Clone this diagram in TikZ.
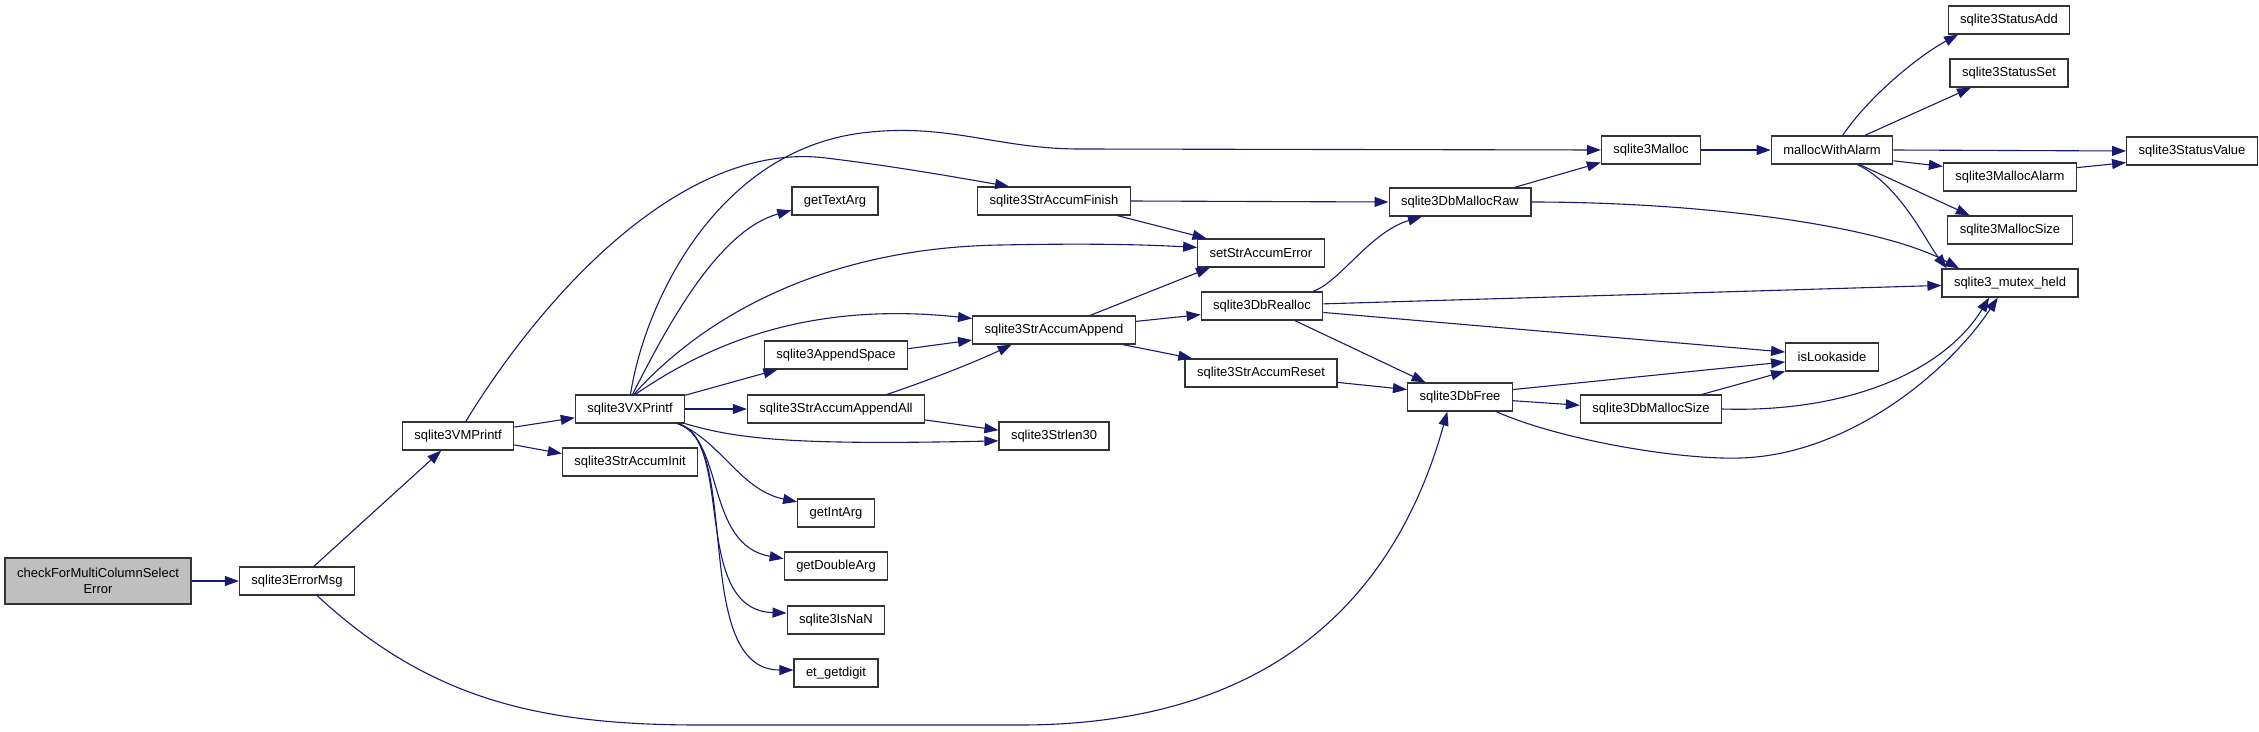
\documentclass[tikz,border=0pt]{standalone}
\usepackage{fontspec}
\setmainfont{Liberation Sans}
\usepackage{tikz}
\usetikzlibrary{arrows.meta}
\definecolor{cEdge}{HTML}{191970}
\definecolor{cRoot}{HTML}{BFBFBF}
\tikzset{
  fn/.style={
    rectangle, draw=black!80, fill=white, line width=1.2pt,
    minimum height=28pt, inner xsep=12pt, inner ysep=0pt,
    font=\fontsize{13}{16}\selectfont
  },
  rootfn/.style={fn, fill=cRoot, minimum height=46pt, align=center},
  call/.style={-{Triangle[length=14pt,width=10pt]}, line width=1.1pt, cEdge},
}

\begin{document}
\begin{tikzpicture}[x=1pt,y=-1pt]
  \useasboundingbox (0,0) rectangle (2259,731);

  % callers
  \node[rootfn] (root) at (98,581) {checkForMultiColumnSelect\\Error};
  \node[fn] (errmsg)   at (297,581) {sqlite3ErrorMsg};
  \node[fn] (vmprintf) at (458,436) {sqlite3VMPrintf};
  \node[fn] (vxprintf) at (630,409) {sqlite3VXPrintf};
  \node[fn] (accinit)  at (630,462) {sqlite3StrAccumInit};

  % column of helpers
  \node[fn] (textarg)  at (835,201) {getTextArg};
  \node[fn] (appspace) at (836,355) {sqlite3AppendSpace};
  \node[fn] (appall)   at (836,409) {sqlite3StrAccumAppendAll};
  \node[fn] (intarg)   at (836,513) {getIntArg};
  \node[fn] (dblarg)   at (836,566) {getDoubleArg};
  \node[fn] (isnan)    at (836,620) {sqlite3IsNaN};
  \node[fn] (getdigit) at (836,673) {et\_getdigit};

  \node[fn] (accfinish) at (1054,201) {sqlite3StrAccumFinish};
  \node[fn] (accappend) at (1054,330) {sqlite3StrAccumAppend};
  \node[fn] (strlen)    at (1054,436) {sqlite3Strlen30};

  \node[fn] (accerror)  at (1261,253) {setStrAccumError};
  \node[fn] (dbrealloc) at (1262,306) {sqlite3DbRealloc};
  \node[fn] (accreset)  at (1261,373) {sqlite3StrAccumReset};

  \node[fn] (mallocraw) at (1460,202) {sqlite3DbMallocRaw};
  \node[fn] (dbfree)    at (1460,397) {sqlite3DbFree};

  \node[fn] (malloc)    at (1651,150) {sqlite3Malloc};
  \node[fn] (dbmsize)   at (1651,409) {sqlite3DbMallocSize};

  \node[fn] (withalarm) at (1832,150) {mallocWithAlarm};
  \node[fn] (lookaside) at (1832,357) {isLookaside};

  % memory stats
  \node[fn] (statadd)   at (2009,20)  {sqlite3StatusAdd};
  \node[fn] (statset)   at (2009,73)  {sqlite3StatusSet};
  \node[fn] (malarm)    at (2010,177) {sqlite3MallocAlarm};
  \node[fn] (msize)     at (2010,230) {sqlite3MallocSize};
  \node[fn] (mutex)     at (2010,283) {sqlite3\_mutex\_held};
  \node[fn] (statvalue) at (2192,151) {sqlite3StatusValue};

  % edges
  \draw[call] (root.east) -- (errmsg.west);
  \draw[call] (errmsg.41) -- (vmprintf.221);
  \draw[call] (errmsg.-36) .. controls (430,700) and (540,725) .. (700,725)
     -- (1020,725) .. controls (1270,725) and (1395,600) .. (dbfree.229);

  \draw[call] (vmprintf.9) -- (vxprintf.189);
  \draw[call] (vmprintf.-9) -- (accinit.173);
  \draw[call] (vmprintf.62) .. controls (540,300) and (680,140) .. (826,158)
     .. controls (900,167) and (960,178) .. (accfinish.162);

  \draw[call] (vxprintf.88) .. controls (645,300) and (720,145) .. (871,132)
     .. controls (950,124) and (1000,149) .. (1080,149) -- (malloc.west);
  \draw[call] (vxprintf.80) .. controls (670,320) and (720,230) .. (textarg.192);
  \draw[call] (vxprintf.75) .. controls (700,320) and (820,248) .. (1000,245)
     .. controls (1100,243) and (1150,245) .. (accerror.175);
  \draw[call] (vxprintf.70) .. controls (700,350) and (800,300) .. (accappend.172);
  \draw[call] (vxprintf.14) -- (appspace.194);
  \draw[call] (vxprintf.east) -- (appall.west);
  \draw[call] (vxprintf.south east) .. controls (740,440) and (800,445) .. (strlen.185);
  \draw[call] (vxprintf.-17) .. controls (720,440) and (740,490) .. (intarg.164);
  \draw[call] (vxprintf.-17) .. controls (725,440) and (705,545) .. (dblarg.172);
  \draw[call] (vxprintf.-17) .. controls (735,440) and (690,610) .. (isnan.172);
  \draw[call] (vxprintf.-17) .. controls (742,440) and (690,670) .. (getdigit.176);

  \draw[call] (appspace.5) -- (accappend.187);
  \draw[call] (appall.16) .. controls (930,380) and (980,360) .. (accappend.199);
  \draw[call] (appall.-7) -- (strlen.174);

  \draw[call] (accfinish.east) -- (mallocraw.west);
  \draw[call] (accfinish.-13) -- (accerror.165);
  \draw[call] (accappend.22) -- (accerror.196);
  \draw[call] (accappend.6) -- (dbrealloc.188);
  \draw[call] (accappend.-12) -- (accreset.168);

  \draw[call] (dbrealloc.16) .. controls (1340,282) and (1370,232) .. (mallocraw.201);
  \draw[call] (dbrealloc.2) -- (mutex.182);
  \draw[call] (dbrealloc.-6) -- (lookaside.174);
  \draw[call] (dbrealloc.-24) -- (dbfree.157);
  \draw[call] (accreset.-7) -- (dbfree.172);

  \draw[call] (mallocraw.15) -- (malloc.194);
  \draw[call] (mallocraw.east) .. controls (1700,202) and (1880,225) .. (mutex.164);
  \draw[call] (malloc.east) -- (withalarm.west);

  \draw[call] (dbfree.8) -- (lookaside.186);
  \draw[call] (dbfree.-4) -- (dbmsize.177);
  \draw[call] (dbfree.-22) .. controls (1560,440) and (1680,460) .. (1740,458)
     .. controls (1850,455) and (1950,370) .. (mutex.230);
  \draw[call] (dbmsize.16) -- (lookaside.197);
  \draw[call] (dbmsize.east) .. controls (1850,413) and (1945,370) .. (mutex.215);

  \draw[call] (withalarm.54) .. controls (1870,95) and (1920,55) .. (statadd.196);
  \draw[call] (withalarm.24) -- (statset.201);
  \draw[call] (withalarm.east) -- (statvalue.west);
  \draw[call] (withalarm.-10) -- (malarm.171);
  \draw[call] (withalarm.-28) -- (msize.160);
  \draw[call] (withalarm.-30) .. controls (1900,185) and (1925,240) .. (mutex.167);
  \draw[call] (malarm.8) -- (statvalue.190);

\end{tikzpicture}
\end{document}
